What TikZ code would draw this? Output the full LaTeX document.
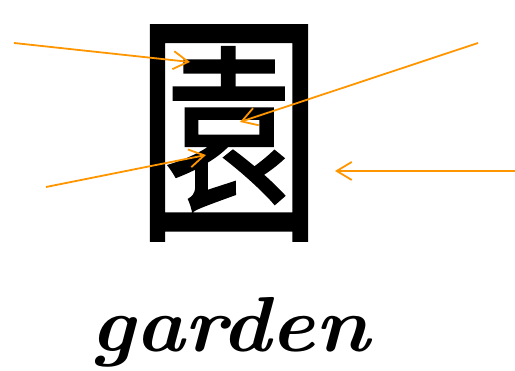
\documentclass[tikz,border=0pt]{standalone}
\usepackage{fontspec}
\newfontfamily\cjk[FakeBold=1]{Noto Sans CJK TC}
\usetikzlibrary{arrows.meta}
\definecolor{pointcol}{RGB}{255,150,0}
\begin{document}
\begin{tikzpicture}[x=1pt,y=1pt,
    pointer/.style={pointcol,line width=1.8pt,-{Straight Barb[length=15pt,width=18pt,line width=1.8pt]}}]
  \useasboundingbox (0,0) rectangle (515,371);

  % The character and its gloss.
  \node[inner sep=0pt] (glyph) at (229,238)
    {\scalebox{0.76}[1]{\fontsize{246}{250}\cjk 園}};
  \node[inner sep=0pt,anchor=base] (word) at (230,19)
    {\scalebox{1.07}[1]{\fontsize{78}{80}\selectfont\bfseries\itshape garden}};

  % Free ends of the pointers and the spots they mark.
  \coordinate (fromA) at (14,328);
  \coordinate (toA) at (190,309);
  \coordinate (fromB) at (478,328);
  \coordinate (toB) at (240,249);
  \coordinate (fromC) at (46,184);
  \coordinate (toC) at (206,216);
  \coordinate (fromD) at (515,200);
  \coordinate (toD) at (335,200);

  \foreach \p in {A,B,C,D}
    \draw[pointer] (from\p) -- (to\p);
\end{tikzpicture}
\end{document}
